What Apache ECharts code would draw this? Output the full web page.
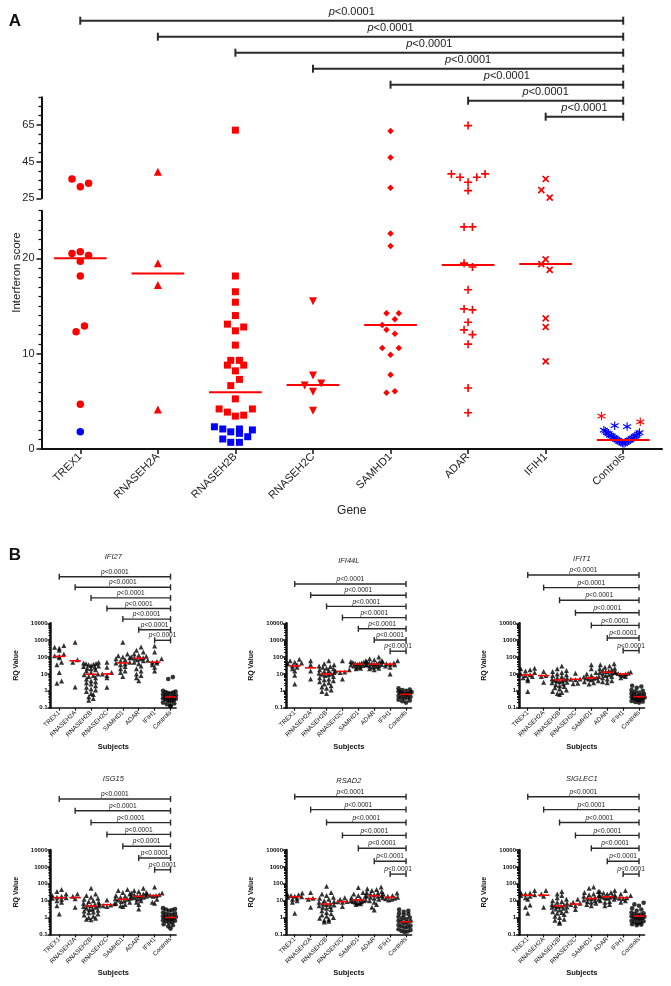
<!DOCTYPE html>
<html><head><meta charset="utf-8">
<script src="https://cdn.jsdelivr.net/npm/echarts@6/dist/echarts.min.js"></script>
<style>html,body{margin:0;padding:0;background:#fff}#c{width:671px;height:986px}</style>
</head><body><div id="c"></div><script>
// ---------------- DATA ----------------
const genes = ['TREX1','RNASEH2A','RNASEH2B','RNASEH2C','SAMHD1','ADAR','IFIH1','Controls'];
const comparisons = [[0,7],[1,7],[2,7],[3,7],[4,7],[5,7],[6,7]];
const pLabel = 'p<0.0001';

// Panel A: [jitter (category units), interferon score]
const trex1Red = [[-0.107,35.5],[0,31.3],[0.107,33.2],[-0.107,20.5],[0,20.7],[0.107,20.3],[0,19.7],[0,18.15],[-0.054,12.3],[0.054,12.9],[0,4.7]];
const trex1Blue = [[0,1.8]];
const rnaseh2aRed = [[0,39.5],[0,19.5],[0,17.2],[0,4.15]];
const rnaseh2bRed = [[0,62.1],[0,18.15],[0,16.5],[0,15.4],[0,14.0],[-0.103,13.1],[0,12.4],[0.107,12.8],[0,10.9],[-0.06,9.3],[0.052,9.3],[-0.103,8.8],[0.107,8.8],[0,8.2],[0.052,7.3],[-0.06,6.65],[0,5.26],[-0.21,4.2],[-0.103,3.87],[0,3.45],[0.107,3.55],[0.219,4.2]];
const rnaseh2bBlue = [[-0.271,2.33],[-0.163,2.1],[-0.06,1.8],[0.052,2.1],[0.052,1.64],[0.219,2.0],[-0.163,1.05],[-0.06,0.7],[0.052,0.7],[0.159,1.29]];
const rnaseh2cRed = [[0,15.5],[0,7.7],[-0.107,6.65],[0.107,6.86],[0,6.0],[0,4.0]];
const samhd1Red = [[0,61.7],[0,47.2],[0,30.8],[0,22.6],[0,21.3],[-0.052,14.25],[0.107,14.25],[0.056,13.6],[-0.107,13.0],[-0.052,12.5],[0.056,12.1],[-0.107,10.6],[0.107,10.6],[0,9.9],[0,7.8],[-0.052,5.9],[0.056,6.06]];
const adarRed = [[0,64.6],[-0.215,38.3],[-0.103,36.5],[0,33.7],[0.112,36.5],[0.219,38.3],[0,29.2],[-0.052,23.3],[0.056,23.3],[-0.052,19.5],[0.056,19.1],[0,16.7],[-0.052,14.7],[0.056,14.6],[0,13.3],[-0.052,12.5],[0.056,12.0],[0,11.0],[0,6.4],[0,3.8]];
const ifih1Red = [[0,35.5],[-0.056,29.5],[0.052,25.4],[0,19.9],[-0.056,19.4],[0.052,18.8],[0,13.7],[0,12.8],[0,9.2]];
const controlsRed = [[-0.28,3.45],[0.22,2.85]];
const controlsBlue = [[-0.11,2.45],[0.05,2.35],
  [-0.25,1.98],[-0.23,1.86],[-0.21,1.7],[-0.19,1.62],[-0.17,1.45],[-0.15,1.37],[-0.13,1.22],[-0.11,1.14],[-0.09,1.0],[-0.07,0.92],[-0.05,0.8],[-0.03,0.71],[-0.01,0.62],
  [0.01,0.58],[0.03,0.69],[0.05,0.77],[0.07,0.9],[0.09,0.96],[0.11,1.1],[0.13,1.17],[0.15,1.32],[0.17,1.41],[0.19,1.57],[0.21,1.72]];
const mediansA = [20.0, 18.4, 5.96, 6.72, 13.0, 19.3, 19.4, 0.94];

// Panel B: RQ values per subject group (TREX1 ... Controls)
const ifi27 = [
 [480,380,330,250,150,120,110,90,50,35,12,3.8,2.8],
 [750,70,50,1.7],
 [50,45,42,40,38,35,32,30,28,25,22,20,18,15,12,10,9,8,7,6,5,4,3.5,3,2.5,2,1.6,1.3,1.1,0.9,0.7,0.6,0.45,0.35,0.28],
 [50,25,12,10,8,6,1.6],
 [750,150,120,100,90,80,70,60,50,45,40,35,28,20,15,12,7],
 [400,250,200,150,130,110,100,90,85,80,70,60,50,40,30,20,15,10,8,6,4],
 [450,200,80,65,55,50,45,35,25,15],
 [5,6.5,1.1,1.0,0.9,0.85,0.8,0.75,0.7,0.65,0.6,0.55,0.5,0.48,0.45,0.42,0.4,0.38,0.36,0.34,0.32,0.3,0.28,0.26,0.24,0.22,0.2,0.18,0.16,0.14,0.12]];
const ifi27Median = [110,60,9.5,10,45,85,50,0.43];
const ifi44l = [
 [75,60,50,45,40,35,30,25,20,15,8.5,2.5],
 [60,35,15,5],
 [60,40,35,30,28,25,22,20,18,16,14,12,11,10,9.5,9,8,7,6,5,4.5,4,3.5,3,2.5,2,1.7,1.4,1.1,0.9,0.7],
 [60,18,15,13,12,5],
 [60,55,50,48,45,42,40,38,36,34,32,30,28,25,22,20],
 [100,80,70,60,55,50,45,42,40,38,36,34,32,30,28,25,22,20,18],
 [60,55,45,40,38,35,30,25,10],
 [1.6,1.4,1.2,1.1,1.0,0.95,0.9,0.85,0.8,0.75,0.7,0.66,0.62,0.6,0.55,0.5,0.45,0.42,0.4,0.36,0.32,0.3,0.27,0.24,0.2]];
const ifi44lMedian = [30,23,10,14,38,38,38,0.62];
const ifit1 = [
 [22,20,18,15,12,10,9,8,7,6,5,4,0.9],
 [14,8,7,3.2],
 [30,20,16,14,12,10,9,8,7,6,5.5,5,4.5,4.2,4,3.8,3.5,3.2,3,2.6,2.3,2,1.8,1.5,1.3,1.1,0.9,0.8,0.7,0.6],
 [11,5,4.8,4.5,2.8,2.6],
 [35,20,12,10,8,7,6.5,6,5.8,5.5,5,4.5,4,3.5,3,2.5],
 [40,35,30,25,22,20,18,16,15,14,13,12,11,10,9,8,7,6,5,4,3.5,3],
 [13,12,11,10.5,10,9,8,7,6],
 [2.2,2.0,1.8,1.5,1.3,1.1,1.0,0.9,0.8,0.75,0.7,0.65,0.6,0.55,0.5,0.47,0.45,0.43,0.4,0.38,0.36,0.34,0.32,0.3,0.28,0.26,0.25,0.23,0.22,0.2]];
const ifit1Median = [8.7,8,4.4,4.8,5.8,12.6,10,0.45];
const isg15 = [
 [45,35,25,20,18,16,15,14,12,10,8,5,1.6],
 [25,18,13,4],
 [55,25,20,16,14,12,10,9,8,7,6,5.5,5,4.8,4.5,4,3.6,3.2,3,2.7,2.4,2.1,1.9,1.6,1.4,1.2,1.0,0.9,0.8,0.75],
 [11,6.5,6,5.6,5,4.5],
 [45,40,30,25,20,18,16,14,13,12,11,10,9,8,7,6,5,4.5],
 [55,40,35,30,28,25,22,20,19,18,17,16,15,14,12,10,8,6,3.2],
 [65,28,25,22,21,20,18,12,8,7],
 [4,3.6,3.2,3,2.8,2.5,2.2,2,1.8,1.6,1.5,1.4,1.3,1.2,1.1,1.0,0.95,0.9,0.85,0.8,0.75,0.7,0.65,0.6,0.55,0.5,0.45,0.4,0.35,0.3,0.22]];
const isg15Median = [15,15,4.8,5.8,12,18,20,1.0];
const rsad2 = [
 [28,25,22,20,18,17,16,14,12,10,8,1.8],
 [30,14,12,4],
 [70,30,25,20,16,14,12,10,9,8,7,6.5,6,5.5,5,4.5,4,3.5,3,2.5,2,1.7,1.4,1.2,1,0.9,0.8,0.7,0.6,0.55],
 [15,12,9,8.5,8,4.5],
 [60,30,25,20,18,15,13,12,11,10,10,9,8.5,8,7.5,7,6.5,6],
 [65,50,45,40,35,30,28,25,22,20,19,18,16,14,12,10,8,6,4,2.8],
 [28,25,20,18,16,15,14,13,12,11],
 [3.5,3,2.5,2.2,2,1.8,1.6,1.4,1.2,1.1,1,0.9,0.8,0.7,0.65,0.6,0.56,0.5,0.45,0.4,0.36,0.32,0.3,0.28,0.25,0.22,0.2,0.18,0.16,0.15,0.14]];
const rsad2Median = [17,13,6.3,8.7,11,19.5,15.5,0.56];
const siglec1 = [
 [40,30,28,25,22,20,18,15,12,5.5,4,1.8],
 [40,25,18,4],
 [35,25,20,15,12,10,9,8,7,6,5.5,5,4.8,4.5,4.2,4,3.6,3.2,2.8,2.5,2.2,2,1.8,1.5,1.2,1,0.8,0.7,0.55,0.45],
 [12,8,7,6,5,3],
 [65,55,35,30,25,22,20,18,15,14,13,12,11,10,9,8,7,6,5],
 [40,35,30,28,25,22,20,18,17,16,15,14,12,10,9,8,6,5],
 [40,25,20,16,15,14,13,10,8],
 [7.5,6,5,4,3.5,3,2.5,2.2,2,1.8,1.6,1.5,1.4,1.3,1.2,1.1,1,0.95,0.9,0.85,0.8,0.7,0.65,0.6,0.55,0.5,0.45,0.42,0.4,0.38,0.35]];
const siglec1Median = [21,21,4.8,6.3,13.5,17,15,1.2];

// ---------------- STYLE / LAYOUT ----------------
const FF = '"Liberation Sans", Arial, Helvetica, sans-serif';
const RED = '#ff0000', BLUE = '#0000ff', INK = '#111111';
const PLUS = 'path://M-1,-5H1V-1H5V1H1V5H-1V1H-5V-1H-1Z';
const STAR = 'path://M-0.6,-5L0.6,-5L0.6,5L-0.6,5ZM4.03,-3.02L4.63,-1.98L-4.03,3.02L-4.63,1.98ZM4.63,1.98L4.03,3.02L-4.63,-1.98L-4.03,-3.02Z';
const symA = [
 {symbol:'circle', size:7.5, rot:0},
 {symbol:'triangle', size:8, rot:0},
 {symbol:'rect', size:7, rot:0},
 {symbol:'triangle', size:8, rot:180},
 {symbol:'diamond', size:6.5, rot:0},
 {symbol:PLUS, size:8, rot:0},
 {symbol:PLUS, size:8.5, rot:45},
 {symbol:STAR, size:8.5, rot:0}
];
const redA = [trex1Red, rnaseh2aRed, rnaseh2bRed, rnaseh2cRed, samhd1Red, adarRed, ifih1Red, controlsRed];
const blueA = [trex1Blue, [], rnaseh2bBlue, [], [], [], [], controlsBlue];

const option = {animation:false, backgroundColor:'#ffffff', grid:[], xAxis:[], yAxis:[], series:[], graphic:[]};
function grid(g){ option.grid.push(Object.assign({containLabel:false, outerBoundsMode:'none', show:false}, g)); return option.grid.length-1; }
function xAx(a){ option.xAxis.push(Object.assign({position:'bottom'}, a)); return option.xAxis.length-1; }
function yAx(a){ option.yAxis.push(Object.assign({position:'left', offset:0}, a)); return option.yAxis.length-1; }
const catTicks = genes.map((_, i) => i);
const catFmt = v => genes[Math.round(v)] || '';

function medianItem(halfW, lw, color){
  return function(params, api){
    const i = api.value(0), m = api.value(1);
    const a = api.coord([i - halfW, m]), b = api.coord([i + halfW, m]);
    return {type:'line', shape:{x1:a[0], y1:a[1], x2:b[0], y2:b[1]}, style:{stroke:color, lineWidth:lw}};
  };
}
function bracketItem(cfg){
  return function(params, api){
    const lv = api.value(2);
    const a = api.coord([api.value(0), lv]), b = api.coord([api.value(1), lv]);
    const ls = {stroke:'#2a2a2a', lineWidth:cfg.lw};
    const txt = '{i|' + pLabel.charAt(0) + '}' + pLabel.slice(1);
    return {type:'group', children:[
      {type:'line', shape:{x1:a[0], y1:a[1], x2:b[0], y2:b[1]}, style:ls},
      {type:'line', shape:{x1:a[0], y1:a[1]-cfg.tick, x2:a[0], y2:a[1]+cfg.tick}, style:ls},
      {type:'line', shape:{x1:b[0], y1:b[1]-cfg.tick, x2:b[0], y2:b[1]+cfg.tick}, style:ls},
      {type:'text', style:{text:txt, x:(a[0]+b[0])/2, y:a[1]-cfg.gap,
        align:'center', verticalAlign:'bottom', textAlign:'center', textVerticalAlign:'bottom',
        fontSize:cfg.font, fontFamily:FF, fill:'#222',
        rich:{i:{fontStyle:'italic', fontSize:cfg.font, fontFamily:FF, fill:'#222', color:'#222'}}}}
    ]};
  };
}
function addBrackets(left, width, xmin, xmax, top, gap, cfg){
  const g = grid({left:left, top:top - gap, width:width, height:8*gap});
  const xi = xAx({type:'value', gridIndex:g, min:xmin, max:xmax, show:false});
  const yi = yAx({type:'value', gridIndex:g, min:0, max:8, inverse:true, show:false});
  option.series.push({type:'custom', xAxisIndex:xi, yAxisIndex:yi, renderItem:bracketItem(cfg), clip:false, z:5,
    encode:{x:[0,1], y:2}, data:comparisons.map((c,k) => [c[0], c[1], k+1])});
}

// ---------------- PANEL A ----------------
const AL = 41.5, AW = 620.5;
const gUp = grid({left:AL, top:97.3, width:AW, height:101});
const gLo = grid({left:AL, top:210.7, width:AW, height:238.3});
const xUp = xAx({type:'value', gridIndex:gUp, min:-0.5, max:7.5, show:false});
const yUp = yAx({type:'value', gridIndex:gUp, min:25, max:80,
  axisLine:{show:true, onZero:false, lineStyle:{color:INK, width:2}},
  axisTick:{show:true, customValues:[25,45,65], length:5, lineStyle:{color:INK, width:1.5}},
  axisLabel:{customValues:[25,45,65], fontSize:11, fontFamily:FF, color:'#222', margin:7},
  splitLine:{show:false}});
const upMinor = []; for (let v = 30; v <= 80; v += 5) if (v !== 45 && v !== 65) upMinor.push(v);
yAx({type:'value', gridIndex:gUp, min:25, max:80, axisLine:{show:false, onZero:false},
  axisTick:{show:true, customValues:upMinor, length:3, lineStyle:{color:INK, width:1.3}},
  axisLabel:{show:false}, splitLine:{show:false}});
const xLo = xAx({type:'value', gridIndex:gLo, min:-0.5, max:7.5,
  axisLine:{show:true, onZero:false, lineStyle:{color:INK, width:2}},
  axisTick:{show:true, customValues:catTicks, length:5, lineStyle:{color:INK, width:1.5}},
  axisLabel:{customValues:catTicks, formatter:catFmt, rotate:45, fontSize:11, fontFamily:FF, color:'#222', margin:6},
  splitLine:{show:false},
  name:'Gene', nameLocation:'middle', nameGap:56, nameTextStyle:{fontSize:12, fontFamily:FF, color:'#222'}});
const yLo = yAx({type:'value', gridIndex:gLo, min:0, max:25,
  axisLine:{show:true, onZero:false, lineStyle:{color:INK, width:2}},
  axisTick:{show:true, customValues:[0,10,20], length:5, lineStyle:{color:INK, width:1.5}},
  axisLabel:{customValues:[0,10,20], fontSize:11, fontFamily:FF, color:'#222', margin:7},
  splitLine:{show:false}});
const loMinor = []; for (let v = 1; v <= 25; v++) if (v % 10) loMinor.push(v);
yAx({type:'value', gridIndex:gLo, min:0, max:25, axisLine:{show:false, onZero:false},
  axisTick:{show:true, customValues:loMinor, length:3, lineStyle:{color:INK, width:1.2}},
  axisLabel:{show:false}, splitLine:{show:false}});

genes.forEach((g, i) => {
  const s = symA[i];
  [[redA[i], RED], [blueA[i], BLUE]].forEach(([pts, color]) => {
    if (!pts.length) return;
    const hi = pts.filter(p => p[1] > 25).map(p => [i + p[0], p[1]]);
    const lo = pts.filter(p => p[1] <= 25).map(p => [i + p[0], p[1]]);
    const mk = (data, xi, yi) => ({type:'scatter', xAxisIndex:xi, yAxisIndex:yi, data:data, symbol:s.symbol,
      symbolSize:s.size, symbolRotate:s.rot, itemStyle:{color:color, opacity:1}, z:3, silent:true});
    if (hi.length) option.series.push(mk(hi, xUp, yUp));
    if (lo.length) option.series.push(mk(lo, xLo, yLo));
  });
});
option.series.push({type:'custom', xAxisIndex:xLo, yAxisIndex:yLo, renderItem:medianItem(0.34, 2, RED), z:4,
  encode:{x:0, y:1}, data:mediansA.map((m, i) => [i, m])});
addBrackets(AL, AW, -0.5, 7.5, 20.7, 16, {tick:4, lw:2, font:11, gap:3});

option.graphic.push({type:'text', x:15, y:21, style:{text:'A', fontSize:17, fontWeight:'bold', fontFamily:FF, fill:'#111',
  align:'center', verticalAlign:'middle', textAlign:'center', textVerticalAlign:'middle'}});
option.graphic.push({type:'text', x:16.5, y:272.5, rotation:Math.PI/2, style:{text:'Interferon score', fontSize:11.5, fontFamily:FF, fill:'#222',
  align:'center', verticalAlign:'middle', textAlign:'center', textVerticalAlign:'middle'}});
option.graphic.push({type:'text', x:15, y:555, style:{text:'B', fontSize:17, fontWeight:'bold', fontFamily:FF, fill:'#111',
  align:'center', verticalAlign:'middle', textAlign:'center', textVerticalAlign:'middle'}});

// ---------------- PANEL B ----------------
const BW = 125.6, BH = 84.4, BXMIN = -0.55, BXMAX = 7.35;
const pxPerCat = BW / (BXMAX - BXMIN), pxPerDec = BH / 5;
function swarmLog(values, rowPx, stepPx, maxHalfPx){
  const items = values.map((v, i) => ({v:v, i:i, py:Math.log10(v) * pxPerDec}));
  items.sort((a, b) => b.py - a.py);
  const dx = new Array(values.length).fill(0);
  let row = [];
  const flush = () => {
    const n = row.length; if (!n) return;
    const step = n > 1 ? Math.min(stepPx, 2 * maxHalfPx / (n - 1)) : 0;
    const order = row.slice().sort((a, b) => a.v - b.v);
    const slots = []; for (let k = 0; k < n; k++) slots.push((k - (n - 1) / 2) * step);
    slots.sort((a, b) => Math.abs(a) - Math.abs(b) || a - b);
    order.forEach((it, k) => { dx[it.i] = slots[k] / pxPerCat; });
    row = [];
  };
  for (const it of items) {
    if (row.length && row[0].py - it.py > rowPx) flush();
    row.push(it);
  }
  flush();
  return dx;
}
const logMinor = [];
[0.1, 1, 10, 100, 1000].forEach(d => { for (let m = 2; m <= 9; m++) logMinor.push(+(d * m).toPrecision(3)); });

const panelsB = [
 {name:'IFI27', data:ifi27, med:ifi27Median, left:50.5, top:623.3, titleY:557, brTop:576.7, brGap:10.6},
 {name:'IFI44L', data:ifi44l, med:ifi44lMedian, left:286, top:623.3, titleY:561, brTop:584, brGap:11.2},
 {name:'IFIT1', data:ifit1, med:ifit1Median, left:519, top:623.3, titleY:559, brTop:575, brGap:12.6},
 {name:'ISG15', data:isg15, med:isg15Median, left:50.5, top:850, titleY:779, brTop:799, brGap:11.8},
 {name:'RSAD2', data:rsad2, med:rsad2Median, left:286, top:850, titleY:781, brTop:796.7, brGap:12.9},
 {name:'SIGLEC1', data:siglec1, med:siglec1Median, left:519, top:850, titleY:779, brTop:796.7, brGap:12.9}
];
panelsB.forEach(p => {
  const g = grid({left:p.left, top:p.top, width:BW, height:BH});
  const xi = xAx({type:'value', gridIndex:g, min:BXMIN, max:BXMAX,
    axisLine:{show:true, onZero:false, lineStyle:{color:INK, width:1.5}},
    axisTick:{show:true, customValues:catTicks, length:3, lineStyle:{color:INK, width:1.2}},
    axisLabel:{customValues:catTicks, formatter:catFmt, rotate:45, fontSize:6.3, fontFamily:FF, color:'#111', margin:4},
    splitLine:{show:false},
    name:'Subjects', nameLocation:'middle', nameGap:35, nameTextStyle:{fontSize:7.5, fontWeight:'bold', fontFamily:FF, color:'#111'}});
  const yi = yAx({type:'log', logBase:10, gridIndex:g, min:0.1, max:10000,
    axisLine:{show:true, onZero:false, lineStyle:{color:INK, width:2.5}},
    axisTick:{show:true, length:3, lineStyle:{color:INK, width:1.5}},
    axisLabel:{fontSize:6, fontWeight:'bold', fontFamily:FF, color:'#111', margin:3, formatter:v => String(+(+v).toPrecision(6))},
    splitLine:{show:false},
    name:'RQ Value', nameLocation:'middle', nameGap:31, nameTextStyle:{fontSize:7, fontWeight:'bold', fontFamily:FF, color:'#111'}});
  yAx({type:'log', logBase:10, gridIndex:g, min:0.1, max:10000, axisLine:{show:false, onZero:false},
    axisTick:{show:true, customValues:logMinor, length:2, lineStyle:{color:INK, width:1}},
    axisLabel:{show:false}, splitLine:{show:false}});
  const tri = [], circ = [];
  p.data.forEach((vals, i) => {
    const dx = swarmLog(vals, 3.6, 4.6, 7.5);
    vals.forEach((v, k) => (i === 7 ? circ : tri).push([i + dx[k], v]));
  });
  option.series.push({type:'scatter', xAxisIndex:xi, yAxisIndex:yi, data:tri, symbol:'triangle', symbolSize:5, itemStyle:{color:'#000'}, z:3, silent:true});
  option.series.push({type:'scatter', xAxisIndex:xi, yAxisIndex:yi, data:circ, symbol:'circle', symbolSize:4.6, itemStyle:{color:'#000'}, z:3, silent:true});
  option.series.push({type:'custom', xAxisIndex:xi, yAxisIndex:yi, renderItem:medianItem(0.36, 1.6, RED), z:4,
    encode:{x:0, y:1}, data:p.med.map((m, i) => [i, m])});
  addBrackets(p.left, BW, BXMIN, BXMAX, p.brTop, p.brGap, {tick:3, lw:1.4, font:6.6, gap:1.2});
  option.graphic.push({type:'text', x:p.left + BW / 2, y:p.titleY, style:{text:p.name, fontSize:7.5, fontStyle:'italic', fontFamily:FF, fill:'#222',
    align:'center', verticalAlign:'middle', textAlign:'center', textVerticalAlign:'middle'}});
});

const chart = echarts.init(document.getElementById('c'), null, {renderer:'canvas', width:671, height:986});
chart.setOption(option);
</script></body></html>
